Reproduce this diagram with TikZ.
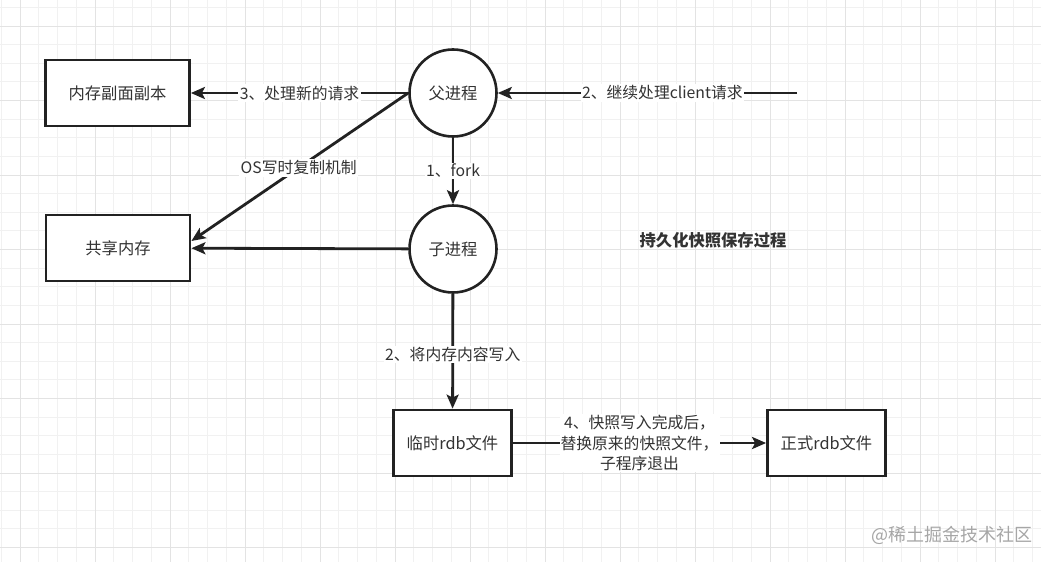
\documentclass[tikz,border=0pt]{standalone}
\usepackage{fontspec}
\setmainfont{Noto Sans CJK SC}
\usetikzlibrary{arrows.meta}
\definecolor{ink}{HTML}{222222}
\definecolor{txt}{HTML}{333333}
\definecolor{gminor}{HTML}{F1F1F1}
\definecolor{gmajor}{HTML}{E3E3E3}
\tikzset{
  box/.style={draw=ink, line width=2.8pt, fill=white, minimum width=144pt, minimum height=66pt, inner sep=0pt, text=txt, font=\fontsize{16.3}{19}\selectfont},
  filebox/.style={box, minimum width=118pt},
  proc/.style={circle, draw=ink, line width=2.6pt, fill=white, minimum size=87pt, inner sep=0pt, text=txt, font=\fontsize{16.3}{19}\selectfont},
  arr/.style={draw=ink, line width=2.8pt, -{Stealth[length=14pt,width=12pt,inset=3pt]}},
  lbl/.style={fill=white, text=txt, inner sep=1.5pt, font=\fontsize{15.8}{20}\selectfont},
  minorgrid/.style={draw=gminor, line width=0.8pt},
  majorgrid/.style={draw=gmajor, line width=1pt},
}
\begin{document}
\begin{tikzpicture}[x=1pt,y=-1pt]
\useasboundingbox (0,0) rectangle (1041,562);
\fill[white] (0,0) rectangle (1041,562);
% grid
\foreach \i in {-1,...,55} {\draw[minorgrid] ({20+18.75*\i},0) -- ++(0,562);}
\foreach \i in {-2,...,30} {\draw[minorgrid] (0,{26+18.625*\i}) -- ++(1041,0);}
\foreach \i in {0,...,14} {\draw[majorgrid] ({20+75*\i},0) -- ++(0,562);}
\foreach \i in {0,...,7} {\draw[majorgrid] (0,{26+74.5*\i}) -- ++(1041,0);}
% nodes
\node[box] (copy) at (117.5,93) {内存副面副本};
\node[box] (shared) at (118,248) {共享内存};
\node[proc] (parent) at (453,93) {父进程};
\node[proc] (child) at (453,249) {子进程};
\node[filebox] (tmp) at (452.5,443) {临时rdb文件};
\node[filebox] (final) at (826.5,443) {正式rdb文件};
\coordinate (cin) at (797,93);
% edges
\draw[arr] (parent) -- node[lbl]{3、处理新的请求} (copy);
\draw[arr] (cin) -- node[lbl,pos=0.45]{2、继续处理client请求} (parent);
\draw[arr] (parent.west) -- node[lbl,pos=0.505]{OS写时复制机制} ([yshift=7pt]shared.east);
\draw[arr] (child) -- (shared);
\draw[arr] (parent) -- node[lbl]{1、fork} (child);
\draw[arr] (child) -- node[lbl,pos=0.53]{2、将内存内容写入} (tmp);
\draw[arr] (tmp) -- node[lbl,align=center,inner sep=1pt,font=\fontsize{15.8}{20.5}\selectfont]{4、快照写入完成后，\\替换原来的快照文件，\\子程序退出} (final);
% title
\node[text=txt, font=\fontsize{16.3}{19}\selectfont\bfseries] (title) at (713,240) {持久化快照保存过程};
% watermark
\node[text=black!35, font=\fontsize{18}{20}\selectfont, anchor=east] (wm) at (1036,535) {@稀土掘金技术社区};
\end{tikzpicture}
\end{document}
